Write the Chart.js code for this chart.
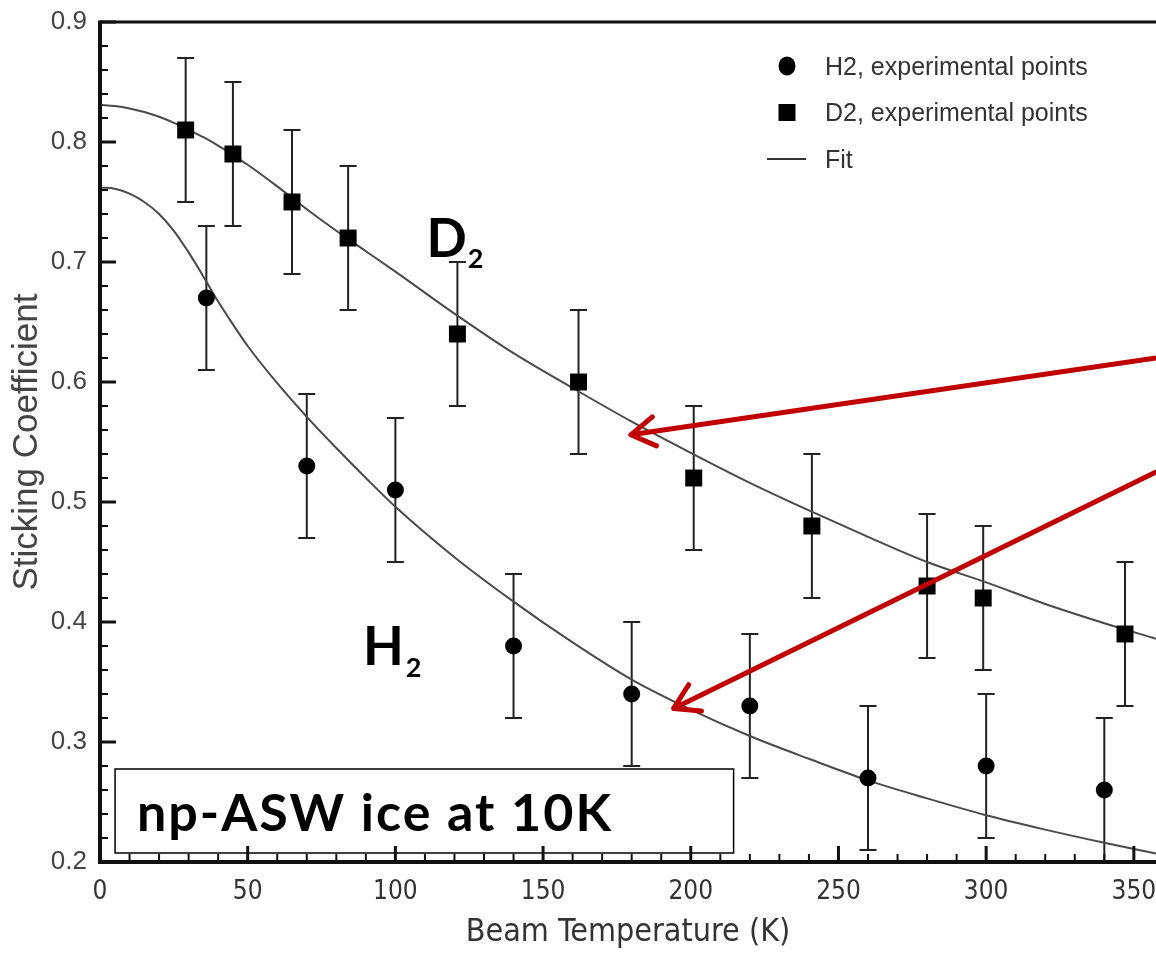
<!DOCTYPE html>
<html>
<head>
<meta charset="utf-8">
<script src="https://cdn.jsdelivr.net/npm/chart.js@4/dist/chart.umd.min.js"></script>
<style>
  html, body { margin: 0; padding: 0; background: #fff; overflow: hidden; }
  canvas { display: block; }
</style>
</head>
<body>
<canvas id="myChart" width="1156" height="957"></canvas>
<script>
// experimental points (beam temperature K, sticking coefficient, error)
var h2Temp = [36, 70, 100, 140, 180, 220, 260, 300, 340];
var h2Stick = [0.67, 0.53, 0.51, 0.38, 0.34, 0.33, 0.27, 0.28, 0.26];
var h2Err = [0.06, 0.06, 0.06, 0.06, 0.06, 0.06, 0.06, 0.06, 0.06];

var d2Temp = [29, 45, 65, 84, 121, 162, 201, 241, 280, 299, 347];
var d2Stick = [0.81, 0.79, 0.75, 0.72, 0.64, 0.60, 0.52, 0.48, 0.43, 0.42, 0.39];
var d2Err = [0.06, 0.06, 0.06, 0.06, 0.06, 0.06, 0.06, 0.06, 0.06, 0.06, 0.06];

// fit curves
var fitTemp = [0, 5, 10, 15, 20, 25, 30, 35, 40, 45, 50, 60, 70, 80, 90, 100, 120, 140, 160, 180, 200, 220, 240, 260, 280, 300, 320, 340, 357.5];
var h2Fit = [0.762, 0.761, 0.757, 0.750, 0.740, 0.726, 0.708, 0.688, 0.667, 0.648, 0.630, 0.599, 0.571, 0.545, 0.520, 0.496, 0.454, 0.417, 0.383, 0.352, 0.327, 0.305, 0.286, 0.268, 0.253, 0.239, 0.227, 0.216, 0.207];
var d2Fit = [0.831, 0.830, 0.828, 0.825, 0.821, 0.816, 0.810, 0.804, 0.797, 0.789, 0.781, 0.763, 0.744, 0.726, 0.709, 0.692, 0.657, 0.624, 0.595, 0.567, 0.541, 0.516, 0.493, 0.471, 0.450, 0.433, 0.415, 0.399, 0.386];

var legendLabels = ['H2, experimental points', 'D2, experimental points', 'Fit'];

function pts(xs, ys) {
    return xs.map(function (x, i) { return {x: x, y: ys[i]}; });
}

function arrow(ctx, x0, y0, x1, y1) {
    var ang = Math.atan2(y1 - y0, x1 - x0);
    var len = 28, spread = 0.55;
    ctx.beginPath();
    ctx.moveTo(x0, y0);
    ctx.lineTo(x1, y1);
    ctx.moveTo(x1 - len * Math.cos(ang - spread), y1 - len * Math.sin(ang - spread));
    ctx.lineTo(x1, y1);
    ctx.lineTo(x1 - len * Math.cos(ang + spread), y1 - len * Math.sin(ang + spread));
    ctx.stroke();
}

var decor = {
    id: 'decor',
    beforeDatasetsDraw: function (chart) {
        var ctx = chart.ctx, ys = chart.scales.y;
        ctx.save();
        ctx.strokeStyle = '#222';
        ctx.lineWidth = 2;
        chart.data.datasets.forEach(function (ds, di) {
            if (!ds.errors) return;
            chart.getDatasetMeta(di).data.forEach(function (el, i) {
                var v = ds.data[i].y, e = ds.errors[i];
                var top = ys.getPixelForValue(v + e), bot = ys.getPixelForValue(v - e);
                var x = el.x;
                ctx.beginPath();
                ctx.moveTo(x, top); ctx.lineTo(x, bot);
                ctx.moveTo(x - 8.5, top); ctx.lineTo(x + 8.5, top);
                ctx.moveTo(x - 8.5, bot); ctx.lineTo(x + 8.5, bot);
                ctx.stroke();
            });
        });
        ctx.restore();
    },
    afterDatasetsDraw: function (chart) {
        var ctx = chart.ctx, xs = chart.scales.x, ys = chart.scales.y;
        var X = function (v) { return xs.getPixelForValue(v); };
        var Y = function (v) { return ys.getPixelForValue(v); };
        ctx.save();
        // box with sample label
        ctx.fillStyle = '#fff';
        ctx.fillRect(X(5.1), Y(0.2775), X(214.5) - X(5.1), Y(0.2075) - Y(0.2775));
        ctx.strokeStyle = '#000';
        ctx.lineWidth = 1.5;
        ctx.strokeRect(X(5.1), Y(0.2775), X(214.5) - X(5.1), Y(0.2075) - Y(0.2775));
        ctx.fillStyle = '#000';
        ctx.textBaseline = 'alphabetic';
        ctx.textAlign = 'left';
        ctx.font = 'bold 52px Lato';
        ctx.letterSpacing = '2px';
        ctx.fillText('np-ASW ice at 10K', X(12.5), Y(0.226));
        ctx.letterSpacing = '0px';
        // species labels
        ctx.font = 'bold 53px Lato';
        ctx.fillText('D', X(110.5), Y(0.704));
        var w = ctx.measureText('D').width;
        ctx.font = 'bold 27px Lato';
        ctx.fillText('2', X(110.5) + w + 1, Y(0.704) + 11);
        ctx.font = 'bold 53px Lato';
        ctx.fillText('H', X(89), Y(0.364));
        w = ctx.measureText('H').width;
        ctx.font = 'bold 27px Lato';
        ctx.fillText('2', X(89) + w + 2, Y(0.364) + 12);
        // red arrows
        ctx.strokeStyle = '#c00000';
        ctx.lineWidth = 5;
        ctx.lineCap = 'round';
        ctx.lineJoin = 'round';
        arrow(ctx, X(357.5), Y(0.62), X(179.7), Y(0.556));
        arrow(ctx, X(357.5), Y(0.525), X(194.2), Y(0.328));
        ctx.restore();
    },
    afterDraw: function (chart) {
        var ctx = chart.ctx, xs = chart.scales.x, ys = chart.scales.y, a = chart.chartArea;
        ctx.save();
        ctx.strokeStyle = '#111';
        // inward ticks
        xs.ticks.forEach(function (t) {
            var v = Math.round(t.value);
            if (v % 10) return;
            var major = v % 50 === 0;
            var px = xs.getPixelForValue(t.value);
            ctx.lineWidth = major ? 3 : 2;
            ctx.beginPath();
            ctx.moveTo(px, a.bottom);
            ctx.lineTo(px, a.bottom - (major ? 16 : 8));
            ctx.stroke();
        });
        ys.ticks.forEach(function (t) {
            var v = Math.round(t.value * 100);
            var major = v % 10 === 0;
            var py = ys.getPixelForValue(t.value);
            ctx.lineWidth = major ? 3 : 2;
            ctx.beginPath();
            ctx.moveTo(a.left, py);
            ctx.lineTo(a.left + (major ? 16 : 8), py);
            ctx.stroke();
        });
        // frame
        ctx.lineWidth = 4;
        ctx.beginPath();
        ctx.moveTo(a.left, a.top - 1.5);
        ctx.lineTo(a.left, a.bottom);
        ctx.lineTo(a.right, a.bottom);
        ctx.stroke();
        ctx.lineWidth = 3;
        ctx.beginPath();
        ctx.moveTo(a.left, a.top);
        ctx.lineTo(a.right, a.top);
        ctx.stroke();
        // legend
        var lx = a.left + 687, ty = a.top + 44, step = 46.5;
        ctx.fillStyle = '#000';
        ctx.beginPath();
        ctx.ellipse(lx, ty, 8.5, 9.5, 0, 0, Math.PI * 2);
        ctx.fill();
        ctx.fillRect(lx - 8.5, ty + step - 8.5, 17, 17);
        ctx.strokeStyle = '#333';
        ctx.lineWidth = 2;
        ctx.beginPath();
        ctx.moveTo(lx - 20, ty + 2 * step);
        ctx.lineTo(lx + 19, ty + 2 * step);
        ctx.stroke();
        ctx.fillStyle = '#333';
        ctx.font = '25px "Liberation Sans", Arial, sans-serif';
        ctx.textBaseline = 'middle';
        ctx.textAlign = 'left';
        legendLabels.forEach(function (s, i) {
            ctx.fillText(s, lx + 38, ty + i * step + 2);
        });
        ctx.restore();
    }
};

var myChart = new Chart('myChart', {
    type: 'scatter',
    data: {
        datasets: [{
            label: legendLabels[0],
            data: pts(h2Temp, h2Stick),
            errors: h2Err,
            pointStyle: 'circle',
            pointRadius: 8.5,
            backgroundColor: '#000',
            borderColor: '#000',
            borderWidth: 0
        }, {
            label: legendLabels[1],
            data: pts(d2Temp, d2Stick),
            errors: d2Err,
            pointStyle: 'rect',
            pointRadius: 12,
            backgroundColor: '#000',
            borderColor: '#000',
            borderWidth: 0
        }, {
            label: legendLabels[2],
            data: pts(fitTemp, h2Fit),
            showLine: true,
            pointRadius: 0,
            borderColor: '#4a4a4a',
            borderWidth: 2,
            cubicInterpolationMode: 'monotone'
        }, {
            label: legendLabels[2],
            data: pts(fitTemp, d2Fit),
            showLine: true,
            pointRadius: 0,
            borderColor: '#4a4a4a',
            borderWidth: 2,
            cubicInterpolationMode: 'monotone'
        }]
    },
    options: {
        responsive: false,
        animation: false,
        events: [],
        layout: {autoPadding: false, padding: {top: 22, left: 0, right: 0, bottom: 0}},
        plugins: {
            legend: {display: false},
            tooltip: {enabled: false}
        },
        scales: {
            x: {
                type: 'linear',
                min: 0,
                max: 357.5,
                afterFit: function (s) { s.height = 95; s.paddingLeft = 0; s.paddingRight = 0; },
                grid: {display: false, drawTicks: false},
                border: {display: false},
                ticks: {
                    stepSize: 10,
                    includeBounds: false,
                    autoSkip: false,
                    maxRotation: 0,
                    maxTicksLimit: 200,
                    padding: 15,
                    color: '#333',
                    font: {family: '"DejaVu Sans Condensed", "Liberation Sans"', size: 26},
                    callback: function (v) { return Math.round(v) % 50 === 0 ? String(Math.round(v)) : ''; }
                },
                title: {
                    display: true,
                    text: 'Beam Temperature (K)',
                    color: '#333',
                    padding: {top: 0, bottom: 5},
                    font: {family: '"DejaVu Sans Condensed", "Liberation Sans"', size: 32}
                }
            },
            y: {
                min: 0.2,
                max: 0.9,
                afterFit: function (s) { s.width = 100; s.paddingTop = 0; s.paddingBottom = 0; },
                grid: {display: false, drawTicks: false},
                border: {display: false},
                ticks: {
                    stepSize: 0.02,
                    autoSkip: false,
                    maxTicksLimit: 200,
                    padding: 13,
                    color: '#444',
                    font: {family: '"Liberation Sans", Arial', size: 26},
                    callback: function (v) { return Math.round(v * 100) % 10 === 0 ? v.toFixed(1) : ''; }
                },
                title: {
                    display: true,
                    text: 'Sticking Coefficient',
                    color: '#444',
                    padding: {top: 6, bottom: 0},
                    font: {family: '"Liberation Sans", Arial', size: 35}
                }
            }
        }
    },
    plugins: [decor]
});
</script>
</body>
</html>
